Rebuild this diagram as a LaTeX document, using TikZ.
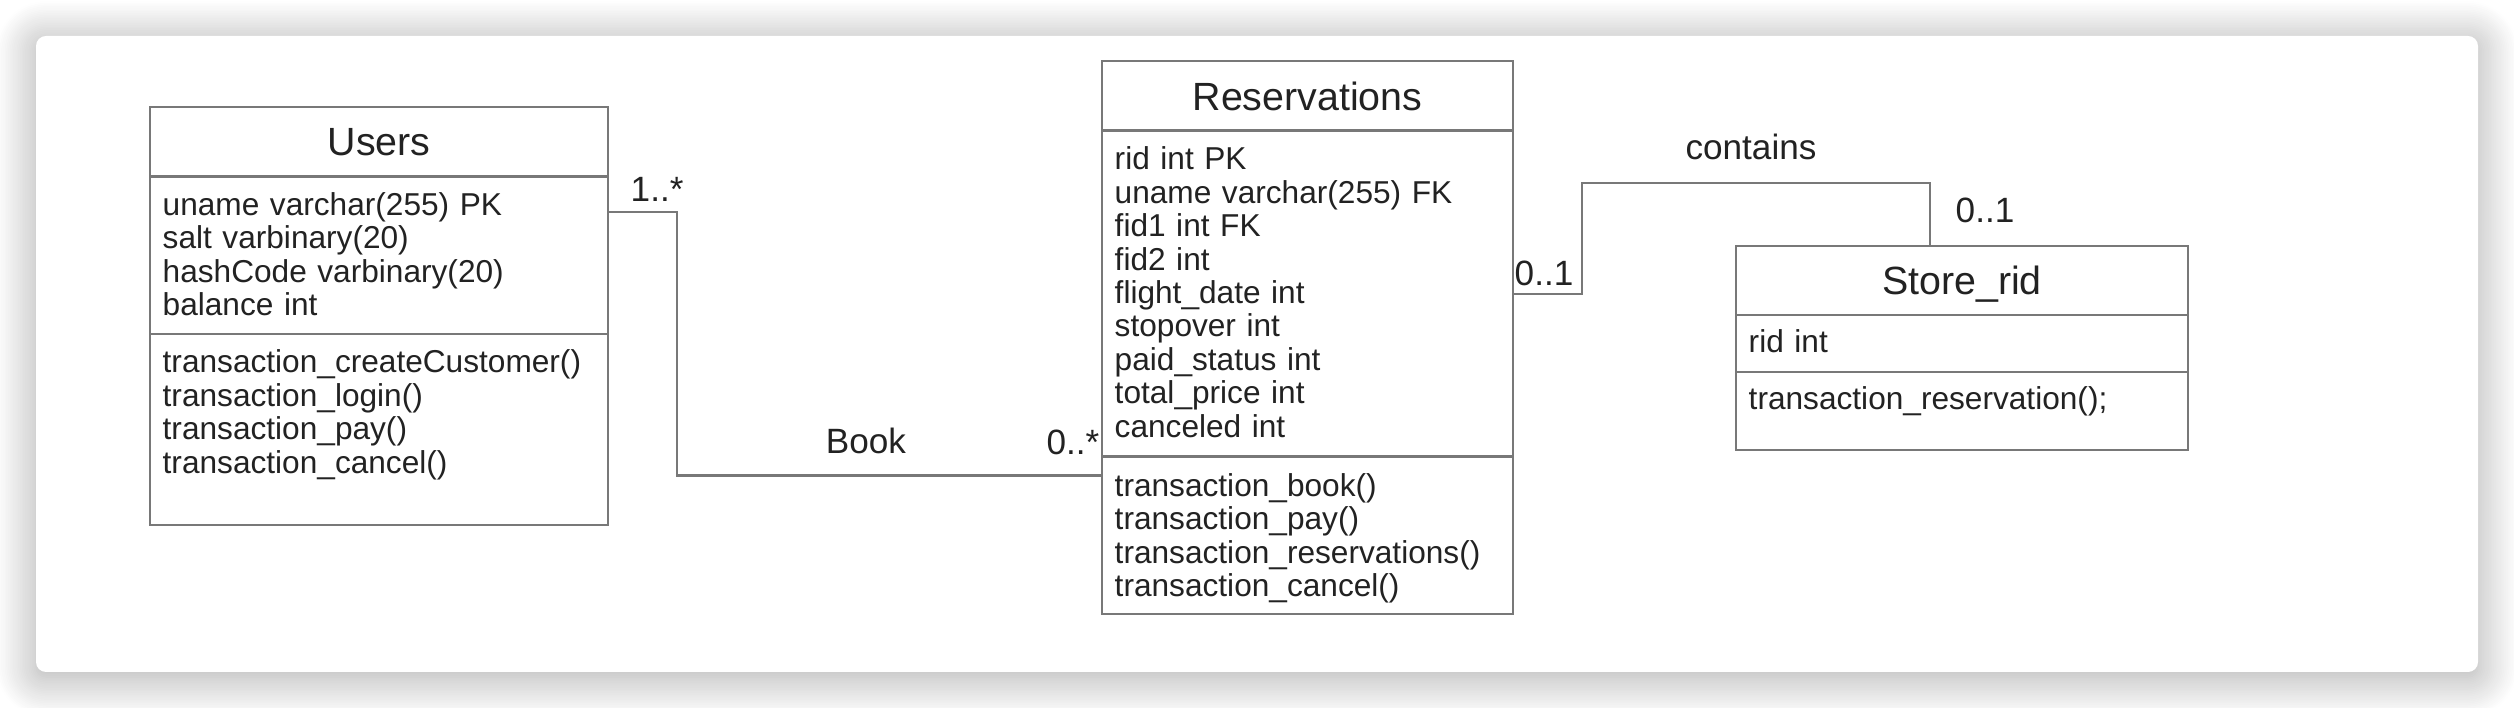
\documentclass[tikz,border=0pt]{standalone}
\usepackage{fontspec}
\setmainfont{Liberation Sans}
\usetikzlibrary{positioning,shadows.blur}

\definecolor{umlgray}{RGB}{120,120,120}
\definecolor{umltext}{RGB}{34,34,34}

\begin{document}
\begin{tikzpicture}[every node/.style={text=umltext},
	classbox/.style={draw=umlgray, line width=0.8pt, fill=white, anchor=north west, inner sep=0pt, outer sep=0pt},
	classname/.style={classbox, font=\fontsize{11.2}{13}\selectfont, text depth=0pt},
	members/.style={anchor=base west, inner sep=0pt, text width=3.9cm, align=left, font=\fontsize{9}{9.5}\selectfont},
	mult/.style={inner sep=0pt, font=\fontsize{10}{12}\selectfont},
	conn/.style={draw=umlgray, line width=0.8pt}]
	\useasboundingbox (0,0) rectangle (25.14,-7.08);
	\fill[white, rounded corners=0.1cm, blur shadow={shadow xshift=0cm, shadow yshift=-0.05cm, shadow blur radius=0.4cm, shadow blur steps=24, shadow opacity=35}] (0.36,-0.36) rectangle (24.78,-6.72);

	% Users
	\node[classname, minimum width=4.58cm, minimum height=0.695cm] (users) at (1.50,-1.07) {Users};
	\node[classbox, minimum width=4.58cm, minimum height=1.575cm] (usersattr) at (users.south west) {};
	\node[classbox, minimum width=4.58cm, minimum height=1.91cm] (usersops) at (usersattr.south west) {};
	\node[members] (usersattrtxt) at ([xshift=0.12cm, yshift=-0.39cm]usersattr.north west) {uname varchar(255) PK\\salt varbinary(20)\\hashCode varbinary(20)\\balance int};
	\node[members] (usersopstxt) at ([xshift=0.12cm, yshift=-0.39cm]usersops.north west) {transaction\_createCustomer()\\transaction\_login()\\transaction\_pay()\\transaction\_cancel()};

	% Reservations
	\node[classname, minimum width=4.11cm, minimum height=0.695cm] (resv) at (11.02,-0.61) {Reservations};
	\node[classbox, minimum width=4.11cm, minimum height=3.26cm] (resvattr) at (resv.south west) {};
	\node[classbox, minimum width=4.11cm, minimum height=1.575cm] (resvops) at (resvattr.south west) {};
	\node[members] (resvattrtxt) at ([xshift=0.12cm, yshift=-0.395cm]resvattr.north west) {rid int PK\\uname varchar(255) FK\\fid1 int FK\\fid2 int\\flight\_date int\\stopover int\\paid\_status int\\total\_price int\\canceled int};
	\node[members] (resvopstxt) at ([xshift=0.12cm, yshift=-0.4cm]resvops.north west) {transaction\_book()\\transaction\_pay()\\transaction\_reservations()\\transaction\_cancel()};

	% Store_rid
	\node[classname, minimum width=4.52cm, minimum height=0.69cm] (store) at (17.36,-2.46) {Store\_rid};
	\node[classbox, minimum width=4.52cm, minimum height=0.57cm] (storeattr) at (store.south west) {};
	\node[classbox, minimum width=4.52cm, minimum height=0.78cm] (storeops) at (storeattr.south west) {};
	\node[members] (storeattrtxt) at ([xshift=0.12cm, yshift=-0.38cm]storeattr.north west) {rid int};
	\node[members] (storeopstxt) at ([xshift=0.12cm, yshift=-0.38cm]storeops.north west) {transaction\_reservation();};

	% associations
	\coordinate (ubook) at ([yshift=-0.355cm]usersattr.north east);
	\coordinate (rbook) at ([yshift=-0.19cm]resvops.north west);
	\draw[conn] (ubook) -- ++(0.69,0) |- (rbook);
	\coordinate (rstore) at ([yshift=-1.635cm]resvattr.north east);
	\coordinate (sstore) at ([xshift=-0.32cm]store.north);
	\draw[conn] (rstore) -- ++(0.69,0) |- ([yshift=0.63cm]sstore) -- (sstore);

	\node[mult, anchor=base west] (multusers) at ([xshift=0.22cm, yshift=0.10cm]ubook) {1..*};
	\node[mult, anchor=base] (book) at (8.66,-4.54) {Book};
	\node[mult, anchor=base east] (multresv) at ([xshift=-0.02cm, yshift=0.205cm]rbook) {0..*};
	\node[mult, anchor=base west] (multresvs) at ([xshift=0.01cm, yshift=0.08cm]rstore) {0..1};
	\node[mult, anchor=base] (contains) at (17.51,-1.60) {contains};
	\node[mult, anchor=base west] (multstore) at ([xshift=0.25cm, yshift=0.23cm]sstore) {0..1};
\end{tikzpicture}
\end{document}
